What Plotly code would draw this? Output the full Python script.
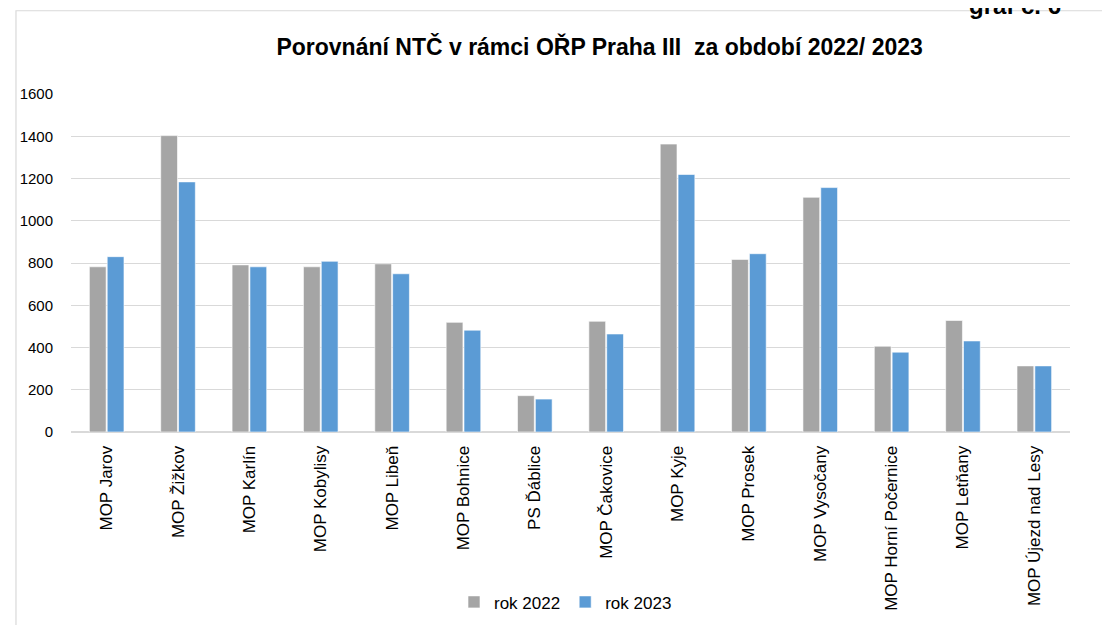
import plotly.graph_objects as go

# data
kategorie = [
    "MOP Jarov", "MOP Žižkov", "MOP Karlín", "MOP Kobylisy", "MOP Libeň",
    "MOP Bohnice", "PS Ďáblice", "MOP Čakovice", "MOP Kyje", "MOP Prosek",
    "MOP Vysočany", "MOP Horní Počernice", "MOP Letňany", "MOP Újezd nad Lesy",
]
rok_2022 = [782, 1403, 791, 782, 796, 519, 172, 524, 1363, 817, 1111, 406, 528, 313]
rok_2023 = [830, 1184, 782, 808, 749, 482, 156, 464, 1219, 844, 1157, 378, 431, 313]

FONT = "Liberation Sans, Arial, sans-serif"

fig = go.Figure()
fig.add_trace(go.Bar(
    x=kategorie, y=rok_2022, name="rok 2022",
    marker=dict(color="#A5A5A5", line=dict(color="#ffffff", width=0.6)),
))
fig.add_trace(go.Bar(
    x=kategorie, y=rok_2023, name="rok 2023",
    marker=dict(color="#5B9BD5", line=dict(color="#ffffff", width=0.6)),
))

# page body has 8px margin -> plot area in figure px: x 56..1062, y 86..427
fig.update_layout(
    width=1110, height=625,
    margin=dict(l=56, r=48, t=86, b=198),
    paper_bgcolor="white", plot_bgcolor="white",
    font=dict(family=FONT, size=16, color="#000000"),
    barmode="group", bargap=0.5, bargroupgap=0.06,
    showlegend=True,
    legend=dict(orientation="h", x=0.495, xanchor="center", y=-0.504, yanchor="middle",
                font=dict(size=17), itemwidth=30, traceorder="normal"),
    title=dict(
        text="<b>Porovnání NTČ v rámci OŘP Praha III  za období 2022/ 2023</b>",
        x=0.533, xanchor="center", y=0.9376, yanchor="middle",
        font=dict(family=FONT, size=23, color="#000000"),
    ),
)

fig.update_yaxes(
    range=[0, 1600], dtick=200, showgrid=True, gridcolor="#d9d9d9", gridwidth=1,
    zeroline=True, zerolinecolor="#d9d9d9", showline=False,
    ticks="outside", ticklen=14, tickcolor="rgba(0,0,0,0)",
    tickfont=dict(size=15),
)
fig.update_xaxes(
    tickangle=-90, showline=True, linecolor="#d9d9d9",
    ticks="outside", ticklen=6, tickcolor="rgba(0,0,0,0)",
    tickfont=dict(size=17),
)

# outer chart border (Excel style)
fig.add_shape(type="rect", xref="paper", yref="paper",
              x0=(0.6 - 56) / 1006, x1=1.2, y0=-1.0, y1=(427 - 2) / 341,
              line=dict(color="#d9d9d9", width=1.2), layer="below")

# label cut off at the top edge, as in the source
fig.add_annotation(text="<b>graf č. 6</b>", xref="paper", yref="paper",
                   x=(1007 - 56) / 1006, y=(427 - 12) / 341,
                   xanchor="center", yanchor="bottom", showarrow=False,
                   font=dict(family=FONT, size=24, color="#000000"))

fig.write_html("out.html")
